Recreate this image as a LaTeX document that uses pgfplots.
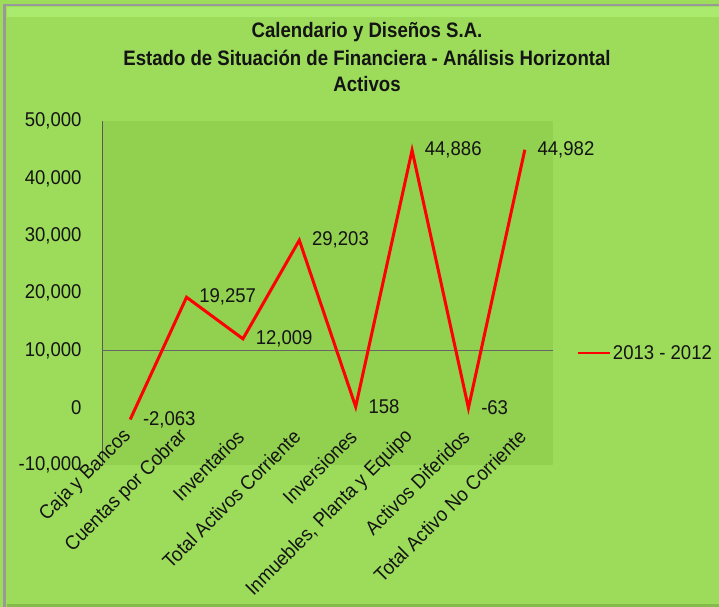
\documentclass[border=0pt]{standalone}
\usepackage{fontspec}
\setmainfont{Liberation Sans}[FakeStretch=0.93]
\newfontfamily\titlefont{Liberation Sans}[FakeStretch=0.89]
\usepackage{pgfplots}
\pgfplotsset{compat=1.18}
\definecolor{outerbg}{RGB}{156,220,90}
\definecolor{plotbg}{RGB}{146,208,80}
\definecolor{hilite}{RGB}{170,235,110}
\definecolor{txt}{RGB}{20,20,20}
\begin{document}
\begin{tikzpicture}[x=1bp,y=1bp]
\useasboundingbox (0,0) rectangle (719,607);
\fill[outerbg] (0,0) rectangle (719,607);
\fill[hilite] (7,590) rectangle (719,600);
\draw[gray!80, line width=2.5bp] (4.5,0) -- (4.5,602) -- (719,602);
\fill[outerbg!85!black] (7,0) rectangle (719,3);
\node[font=\titlefont\bfseries\fontsize{21}{22}\selectfont, text=txt] at (367,575) {Calendario y Diseños S.A.};
\node[font=\titlefont\bfseries\fontsize{21}{22}\selectfont, text=txt] at (367,549) {Estado de Situación de Financiera - Análisis Horizontal};
\node[font=\titlefont\bfseries\fontsize{21}{22}\selectfont, text=txt] at (367,523) {Activos};
\begin{axis}[
  at={(102bp,142bp)}, anchor=south west,
  width=451bp, height=344bp, scale only axis,
  xmin=-0.5, xmax=7.5, ymin=-10000, ymax=50000,
  ytick={-10000,0,10000,20000,30000,40000,50000},
  xtick={0,...,7},
  xticklabels={Caja y Bancos, Cuentas por Cobrar, Inventarios, Total Activos Corriente, Inversiones, {Inmuebles, Planta y Equipo}, Activos Diferidos, Total Activo No Corriente},
  axis x line*=bottom, axis y line*=left,
  x axis line style={draw=none},
  y axis line style={draw=gray!70!black, line width=0.8bp},
  tick style={draw=none},
  axis background/.style={fill=plotbg},
  /pgf/number format/.cd, 1000 sep={,}, assume math mode=true, /pgfplots/.cd,
  scaled y ticks=false,
  yticklabel style={font=\fontsize{20}{21}\selectfont, text=txt, anchor=east, xshift=-17bp},
  xticklabel style={font=\fontsize{20}{21}\selectfont, text=txt, yshift=34bp, xshift=0bp, rotate=45, anchor=east},
  extra y ticks={10000}, extra y tick labels={},
  extra y tick style={grid=major, major grid style={draw=gray!80!black, line width=0.8bp}},
  nodes near coords, point meta=explicit,
  every node near coord/.append style={anchor=west, xshift=8bp, font=\fontsize{20}{21}\selectfont, text=txt},
  legend style={at={(1.045,0.326)}, anchor=west, draw=none, fill=none, font=\fontsize{20}{21}\selectfont, text=txt, legend cell align=left},
  legend image code/.code={\draw[#1, line width=2.5bp] (0bp,0bp) -- (32bp,0bp);},
  clip=false,
]
\addplot[red, line width=3bp, mark=none] coordinates {
  (0,-2063) [-2063]
  (1,19257) [19257]
  (2,12009) [12009]
  (3,29203) [29203]
  (4,158) [158]
  (5,44886) [44886]
  (6,-63) [-63]
  (7,44982) [44982]
};
\addlegendentry{2013 - 2012}
\end{axis}
\end{tikzpicture}
\end{document}
